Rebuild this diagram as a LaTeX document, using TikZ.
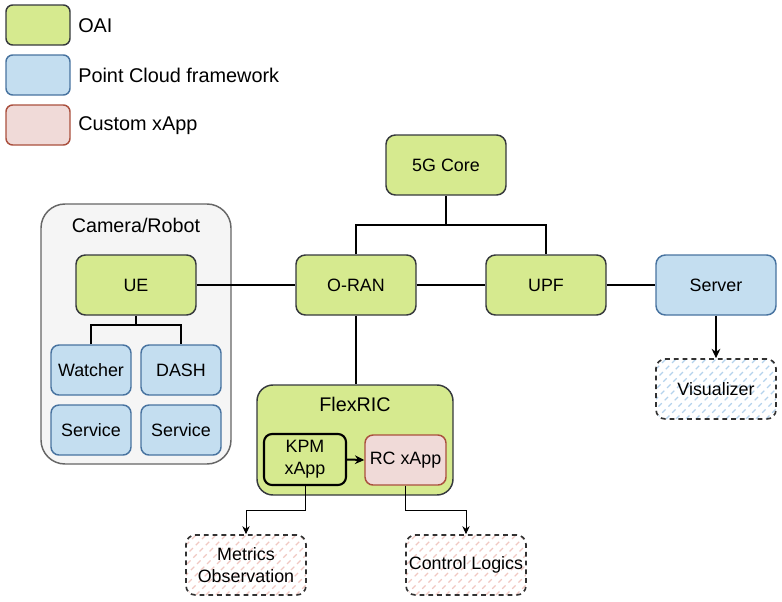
\documentclass[tikz,border=0pt]{standalone}
\usepackage{fontspec}
\setmainfont{Liberation Sans}
\usetikzlibrary{arrows.meta}
\definecolor{oaiG}{RGB}{214,234,143}
\definecolor{oaiS}{RGB}{54,57,61}
\definecolor{pcF}{RGB}{196,222,240}
\definecolor{pcS}{RGB}{72,115,160}
\definecolor{cxF}{RGB}{240,218,216}
\definecolor{cxS}{RGB}{170,80,62}
\definecolor{grF}{RGB}{245,245,245}
\definecolor{grS}{RGB}{102,102,102}
\definecolor{hatchR}{RGB}{240,200,194}
\definecolor{hatchB}{RGB}{180,210,236}
\definecolor{dashS}{RGB}{50,50,50}
\tikzset{
  boxtxt/.style={font=\fontsize{13.4}{16.3}\selectfont, align=center, inner sep=0pt},
  base/.style={boxtxt, rounded corners=7pt, line width=1.1pt, minimum width=90pt, minimum height=45pt},
  oai/.style={base, fill=oaiG, draw=oaiS},
  pc/.style={base, fill=pcF, draw=pcS},
  cx/.style={base, fill=cxF, draw=cxS},
  small/.style={minimum width=60pt, minimum height=37.5pt, rounded corners=6pt},
  legbox/.style={minimum width=48pt, minimum height=30pt, rounded corners=5pt},
  legtxt/.style={font=\fontsize{14.9}{17}\selectfont, anchor=west, inner sep=0pt},
  titletxt/.style={font=\fontsize{14.8}{17}\selectfont, inner sep=0pt},
  hatch/.style={path picture={
      \foreach \k in {-8,...,14}{
        \draw[#1, line width=0.85pt] ([xshift=\k*7.5pt]path picture bounding box.south west) -- ++(60pt,60pt);
      }}},
  outbox/.style={base, line width=1.25pt, draw=dashS, dash pattern=on 3.6pt off 3pt, hatch=#1},
  conn/.style={line width=1.5pt, draw=black},
  thin/.style={line width=0.75pt, draw=black},
  bigarrow/.style={-{Stealth[length=7pt,width=6.5pt]}},
  smallarrow/.style={-{Stealth[length=6pt,width=5.5pt]}},
}
\begin{document}
\begin{tikzpicture}[x=0.75pt,y=-0.75pt]
\useasboundingbox (0,0) rectangle (782,601);

% legend
\node[oai, legbox] (leg1) at (38,25) {};
\node[pc, legbox] (leg2) at (38,75) {};
\node[cx, legbox] (leg3) at (38,125) {};
\node[legtxt] (leg1t) at (78,25.5) {OAI};
\node[legtxt] (leg2t) at (78,75.5) {Point Cloud framework};
\node[legtxt] (leg3t) at (78,125.5) {Custom xApp};

% camera / robot container
\node[base, fill=grF, draw=grS, rounded corners=18pt, minimum width=142.5pt, minimum height=195pt] (camera) at (136,334) {};
\node[titletxt] (camt) at (136,225) {Camera/Robot};

% flexric container
\node[oai, rounded corners=12pt, minimum width=147pt, minimum height=82.5pt] (flexric) at (355,440) {};
\node[titletxt] (flext) at (355,404) {FlexRIC};

% main nodes
\node[oai] (core) at (446,165) {5G Core};
\node[oai] (oran) at (356,285) {O-RAN};
\node[oai] (upf) at (546,285) {UPF};
\node[pc] (server) at (716,285) {Server};
\node[oai] (ue) at (136,285) {UE};
\node[pc, small] (watcher) at (91,370) {Watcher};
\node[pc, small] (dash) at (181,370) {DASH};
\node[pc, small] (svca) at (91,430) {Service};
\node[pc, small] (svcb) at (181,430) {Service};
\node[oai, draw=black, line width=1.6pt, minimum width=61.5pt, minimum height=38.25pt, rounded corners=6pt] (kpm) at (305,459.5) {KPM\\xApp};
\node[cx, minimum width=60.75pt, minimum height=37.5pt, rounded corners=6pt] (rc) at (405.5,460) {RC xApp};

\node[outbox=hatchB] (viz) at (716,389) {Visualizer};
\node[outbox=hatchR] (metrics) at (246,565) {Metrics\\Observation};
\node[outbox=hatchR] (control) at (466,565) {Control Logics};

% junction levels
\coordinate (corebus) at (0,225);
\coordinate (uebus) at (0,325);
\coordinate (ricbus) at (0,510);

% connectors
\draw[conn] (core.south) -- (core.south |- corebus);
\draw[conn] (oran.north) |- (core.south |- corebus) -| (upf.north);
\draw[conn] (ue.east) -- (oran.west);
\draw[conn] (oran.east) -- (upf.west);
\draw[conn] (upf.east) -- (server.west);
\draw[conn] (ue.south) -- (ue.south |- uebus);
\draw[conn] (watcher.north) |- (ue.south |- uebus) -| (dash.north);
\draw[conn] (oran.south) -- (oran.south |- flexric.north);
\draw[conn, bigarrow] (server.south) -- (viz.north);
\draw[conn, bigarrow] (kpm.east) -- (rc.west);
\draw[thin, smallarrow] (kpm.south) -- (kpm.south |- ricbus) -| (metrics.north);
\draw[thin, smallarrow] (rc.south) -- (rc.south |- ricbus) -| (control.north);
\end{tikzpicture}
\end{document}
